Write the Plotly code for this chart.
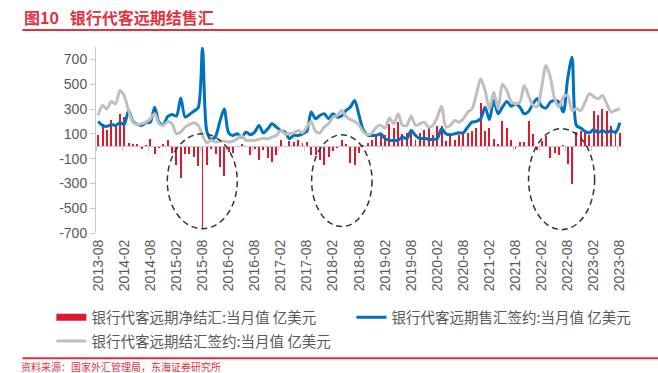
import plotly.graph_objects as go
import pandas as pd

# ---------------- data ----------------
months = pd.date_range("2013-08-01", "2023-08-01", freq="MS").strftime("%Y-%m").tolist()
tick_labels = months[::6]

# 银行代客远期净结汇:当月值 (亿美元)
net_settlement = [
    92, 181, 127, 208, 181, 256, 235, 28, 17, 15,
    -20, 9, 57, -61, -12, 20, 52, -55, -150, -257,
    -61, -61, -88, -157, -668, -150, -20, -64, -171, -244,
    -50, -53, -8, 15, -8, -74, -20, -110, -34, -93,
    -128, -74, 50, -3, 39, 33, 47, 25, 31, -68,
    -70, -114, -150, -90, -40, -14, 52, 15, -134, -148,
    -54, 10, 28, 52, 95, 90, 92, 181, 145, 192,
    98, 108, 118, 52, 108, 134, 153, 92, 159, 159,
    44, 82, 52, 87, 100, 108, 120, 150, 350, 122,
    150, 55, 20, 205, 150, 48, -22, 30, 30, 205,
    100, -28, 38, 80, -97, -57, -68, 8, -140, -305,
    115, 125, 115, 90, 285, 248, 302, 285, 160, 130,
    110,
]

# 银行代客远期售汇签约:当月值 (亿美元)
forward_sales = [
    200, 168, 160, 174, 168, 189, 176, 288, 200, 176,
    168, 189, 194, 315, 194, 174, 240, 256, 243, 388,
    235, 256, 283, 310, 790, 120, 55, 80, 200, 300,
    108, 87, 100, 73, 114, 92, 114, 167, 108, 140,
    181, 154, 127, 114, 60, 87, 87, 100, 119, 275,
    221, 248, 262, 221, 262, 235, 243, 288, 315, 369,
    250, 130, 90, 87, 87, 100, 60, 47, 47, 47,
    74, 60, 127, 87, 60, 65, 55, 55, 60, 140,
    100, 92, 100, 108, 108, 154, 194, 200, 221, 315,
    215, 370, 262, 315, 361, 323, 342, 315, 262, 280,
    342, 382, 323, 307, 355, 369, 355, 275, 543, 718,
    168, 146, 119, 108, 135, 108, 127, 108, 127, 108,
    189,
]

# 银行代客远期结汇签约:当月值 (亿美元)
forward_settlement = [
    250, 328, 301, 360, 342, 449, 404, 288, 194, 176,
    181, 194, 221, 262, 181, 168, 200, 181, 100, 114,
    154, 174, 189, 168, 87, 28, 47, 33, 41, 41,
    33, 40, 60, 87, 47, 47, 47, 55, 65, 60,
    74, 87, 127, 100, 100, 108, 127, 108, 154, 200,
    119, 108, 154, 181, 235, 248, 288, 240, 215, 200,
    170, 114, 92, 108, 154, 168, 146, 228, 181, 262,
    168, 168, 243, 168, 181, 194, 154, 168, 235, 323,
    154, 168, 208, 194, 221, 275, 300, 420, 543, 449,
    300, 436, 300, 500, 449, 360, 342, 355, 490, 409,
    330, 320, 470, 651, 560, 382, 315, 396, 409, 288,
    302, 288, 355, 423, 400, 382, 409, 342, 275, 290,
    302,
]

y_ticks = list(range(-700, 701, 200))

# ---------------- geometry helpers ----------------
W, H = 658, 373
L, R, T, B = 95.6, 36.4, 46.5, 140.3
PW, PH = W - L - R, H - T - B


def px_x(px):
    return (px - L) / PW


def px_y(py):
    return (H - B - py) / PH


RED = "#DA1A2E"
BLUE = "#0070C0"
GRAY = "#BFBFBF"
TXT = "#595959"
AX = "#C8C8C8"
ACCENT = "#E3323F"
CJK = "Noto Sans CJK SC, sans-serif"
NUM = "Liberation Sans, Arial, sans-serif"

name_net = "银行代客远期净结汇:当月值 亿美元"
name_sales = "银行代客远期售汇签约:当月值 亿美元"
name_settle = "银行代客远期结汇签约:当月值 亿美元"

fig = go.Figure()
fig.add_trace(go.Bar(x=months, y=net_settlement, marker=dict(color=RED, line=dict(width=0)),
                     width=0.45, name=name_net, showlegend=False, legendgroup="net",
                     hoverinfo="skip"))
fig.add_trace(go.Scatter(x=months, y=forward_sales, mode="lines", name=name_sales,
                         line=dict(color=BLUE, width=3, shape="spline", smoothing=0.8),
                         legend="legend2", hoverinfo="skip"))
fig.add_trace(go.Scatter(x=months, y=forward_settlement, mode="lines", name=name_settle,
                         line=dict(color=GRAY, width=3, shape="spline", smoothing=0.8),
                         legend="legend3", hoverinfo="skip"))
# legend swatch for the bars (wide flat patch like the original)
fig.add_trace(go.Scatter(x=[None], y=[None], mode="lines", name=name_net,
                         line=dict(color=RED, width=7), legendgroup="net",
                         legend="legend", hoverinfo="skip"))
# carrier for the zero-line axis
fig.add_trace(go.Scatter(x=[None], y=[None], xaxis="x2", showlegend=False, hoverinfo="skip"))

legend_common = dict(orientation="h", xanchor="left", yanchor="middle",
                     bgcolor="rgba(0,0,0,0)", borderwidth=0,
                     font=dict(family=CJK, size=14.5, color=TXT))

fig.update_layout(
    width=W, height=H,
    margin=dict(l=L, r=R, t=T, b=B, pad=0),
    paper_bgcolor="white", plot_bgcolor="white",
    bargap=0,
    xaxis=dict(type="category", categoryorder="array", categoryarray=months,
               range=[-0.5, len(months) - 0.5], tickmode="array",
               tickvals=tick_labels, ticktext=tick_labels, tickangle=-90,
               tickfont=dict(family=NUM, size=14, color=TXT),
               showline=False, ticks="", showgrid=False, zeroline=False,
               ticklabelstandoff=3),
    xaxis2=dict(overlaying="x", anchor="free", position=700 / 1500,
                range=[-0.5, len(months) - 0.5], showline=True, linecolor=AX, linewidth=1,
                ticks="outside", ticklen=4, tickcolor=AX, tickwidth=1,
                tickmode="array", tickvals=[i - 0.5 for i in range(0, len(months), 6)],
                showticklabels=False, showgrid=False, zeroline=False),
    yaxis=dict(range=[-700, 800], tickmode="array", tickvals=y_ticks,
               ticktext=[str(v) for v in y_ticks],
               tickfont=dict(family=NUM, size=14, color=TXT),
               showline=True, linecolor=AX, linewidth=1, ticks="outside", ticklen=5,
               tickcolor=AX, showgrid=False, zeroline=False, ticklabelstandoff=0),
    legend=dict(x=px_x(51), y=px_y(317), **legend_common),
    legend2=dict(x=px_x(351), y=px_y(317), **legend_common),
    legend3=dict(x=px_x(51), y=px_y(341), **legend_common),
    showlegend=True,
)

# title, source
fig.add_annotation(text="<b>图10\u00a0\u00a0\u00a0银行代客远期结售汇</b>", xref="paper", yref="paper",
                   x=px_x(22), y=px_y(16.3), xanchor="left", yanchor="middle", showarrow=False,
                   font=dict(family=CJK, size=16, color=ACCENT))
fig.add_annotation(text="资料来源：国家外汇管理局，东海证券研究所", xref="paper", yref="paper",
                   x=px_x(20), y=px_y(366), xanchor="left", yanchor="middle", showarrow=False,
                   borderpad=0,
                   font=dict(family=CJK, size=10, color=ACCENT))

# rules
fig.add_shape(type="line", xref="paper", yref="paper", x0=px_x(22), x1=px_x(658),
              y0=px_y(29.5), y1=px_y(29.5), line=dict(color=ACCENT, width=2))
fig.add_shape(type="line", xref="paper", yref="paper", x0=px_x(22), x1=px_x(658),
              y0=px_y(358), y1=px_y(358), line=dict(color=ACCENT, width=2))

# dashed highlight ellipses (x2 = month index, y = value)
ellipses = [(15.9, 32.0, 100, -665), (49.1, 63.0, 92, -648), (99.0, 114.2, 141, -673)]
for x0, x1, y0, y1 in ellipses:
    fig.add_shape(type="circle", xref="x2", yref="y", x0=x0, x1=x1, y0=y1, y1=y0,
                  line=dict(color="#333333", width=1.5, dash="6px,4px"))

fig.write_html("out.html",
               config={"displayModeBar": False, "staticPlot": True},
               post_script="document.body.style.margin='0';document.body.style.padding='0';")
